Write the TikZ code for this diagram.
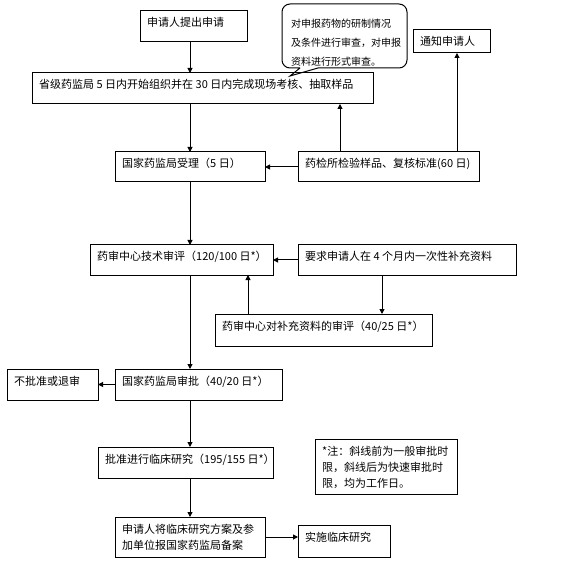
\documentclass[tikz,border=0pt]{standalone}
\usepackage{fontspec}
\setmainfont{Noto Sans CJK SC}
\usetikzlibrary{arrows.meta,calc}
\tikzset{
  box/.style={draw, line width=1pt, rectangle, inner sep=0pt, outer sep=0pt, anchor=north west},
  lbl/.style={anchor=base west, inner sep=0pt, font=\fontsize{11}{16}\selectfont},
  arr/.style={line width=1pt, -{Triangle[length=5pt,width=5pt]}},
  bubble/.style={draw, line width=1pt},
}
\newcommand\mybox[6]{%
  \node[box, minimum width={#4-#2}, minimum height={#5-#3}] (#1) at (#2,#3) {};
  \node[lbl] (#1-t) at ($(#1.north west)+(7,16)$) {#6};
}
\newcommand\lines[1]{\vtop{\baselineskip=16pt\halign{##\hfil\cr#1\crcr}}}
\begin{document}
\begin{tikzpicture}[x=1pt,y=-1pt]
\useasboundingbox (0,0) rectangle (565,564);
\fill[white] (0,0) rectangle (565,564);

\mybox{b1}{140}{11}{247}{42}{申请人提出申请}
\mybox{notify}{413}{30}{490}{53}{通知申请人}
\mybox{prov}{32}{73}{373}{104}{省级药监局 5 日内开始组织并在 30 日内完成现场考核、抽取样品}
\mybox{guo}{115}{152}{265}{182}{国家药监局受理（5 日）}
\mybox{yj}{298}{152}{479}{182}{药检所检验样品、复核标准(60 日)}
\mybox{jishu}{90}{245}{273}{275}{药审中心技术审评（120/100 日*）}
\mybox{yaoqiu}{298}{245}{516}{275}{要求申请人在 4 个月内一次性补充资料}
\mybox{supp}{215}{314}{432}{346}{药审中心对补充资料的审评（40/25 日*）}
\mybox{buzhun}{7}{369}{98}{400}{不批准或退审}
\mybox{shenpi}{115}{369}{282}{400}{国家药监局审批（40/20 日*）}
\mybox{pizhun}{98}{447}{273}{478}{批准进行临床研究（195/155 日*）}
\mybox{note}{315}{439}{457}{494}{\lines{*注：斜线前为一般审批时\cr 限，斜线后为快速审批时\cr 限，均为工作日。}}
\mybox{beian}{115}{517}{265}{557}{\lines{申请人将临床研究方案及参\cr 加单位报国家药监局备案}}
\mybox{shishi}{298}{525}{390}{557}{实施临床研究}

% callout bubble
\draw[bubble, rounded corners=8pt] (300,68) [sharp corners]-- (290,76) -- (318,68) [rounded corners=8pt]-- (407,68) -- (407,4) -- (282,4) -- (282,68) -- (300,68);
\node[anchor=base west, inner sep=0pt, font=\fontsize{10}{19}\selectfont] (call) at (291,28) {\vtop{\baselineskip=19pt\halign{#\hfil\cr 对申报药物的研制情况\cr 及条件进行审查，对申报\cr 资料进行形式审查。\crcr}}};

% column coordinates
\coordinate (col) at (190,0);
\coordinate (c1) at (340,0);
\coordinate (c2) at (457,0);
\coordinate (c3) at (382,0);
\coordinate (c4) at (248,0);

\draw[arr] (b1.south -| col) -- (prov.north -| col);
\draw[arr] (prov.south -| col) -- (guo.north -| col);
\draw[arr] (yj.west) -- (guo.east);
\draw[arr] (yj.north -| c1) -- (prov.south -| c1);
\draw[arr] (yj.north -| c2) -- (notify.south -| c2);
\draw[arr] (guo.south -| col) -- (jishu.north -| col);
\draw[arr] (yaoqiu.west) -- (jishu.east);
\draw[arr] (yaoqiu.south -| c3) -- (supp.north -| c3);
\draw[arr] (supp.north -| c4) -- (jishu.south -| c4);
\draw[arr] (jishu.south -| col) -- (shenpi.north -| col);
\draw[arr] (shenpi.west) -- (buzhun.east);
\draw[arr] (shenpi.south -| col) -- (pizhun.north -| col);
\draw[arr] (pizhun.south -| col) -- (beian.north -| col);
\draw[arr] (beian.east) -- (beian.east -| shishi.west);
\end{tikzpicture}
\end{document}
